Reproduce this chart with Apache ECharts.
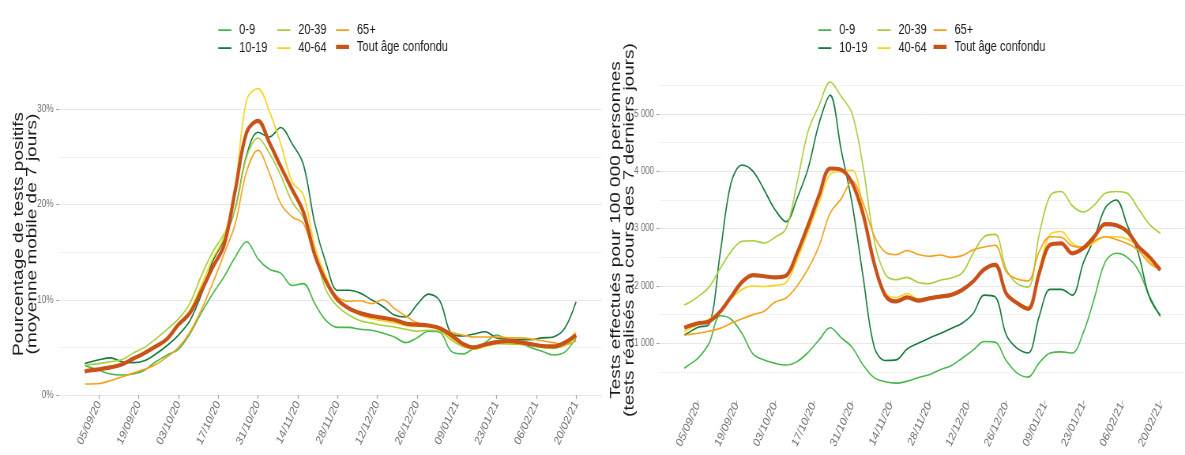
<!DOCTYPE html>
<html>
<head>
<meta charset="utf-8">
<script src="https://cdn.jsdelivr.net/npm/echarts@6/dist/echarts.min.js"></script>
<style>
  html, body { margin: 0; padding: 0; background: #ffffff; overflow: hidden; }
  #wrap { width: 1185px; height: 455px; overflow: hidden; position: relative; }
  /* the figure is laid out 1500px wide and narrowed horizontally to the page width */
  #chart { width: 1500px; height: 455px; transform: scaleX(0.79); transform-origin: 0 0; }
</style>
</head>
<body>
<div id="wrap"><div id="chart"></div></div>
<script>
// ---------- data ----------
const sampleDates = [
  '31/08/20',
  '01/09/20','05/09/20','09/09/20','13/09/20','17/09/20','21/09/20','25/09/20','29/09/20',
  '03/10/20','07/10/20','11/10/20','15/10/20','19/10/20','23/10/20','27/10/20','31/10/20',
  '04/11/20','08/11/20','12/11/20','16/11/20','20/11/20','24/11/20','28/11/20',
  '02/12/20','06/12/20','10/12/20','14/12/20','18/12/20','22/12/20','26/12/20','30/12/20',
  '03/01/21','07/01/21','11/01/21','15/01/21','19/01/21','23/01/21','27/01/21','31/01/21',
  '04/02/21','08/02/21','12/02/21','16/02/21','20/02/21'
];

const tickLabels = [
  '05/09/20','19/09/20','03/10/20','17/10/20','31/10/20','14/11/20','28/11/20',
  '12/12/20','26/12/20','09/01/21','23/01/21','06/02/21','20/02/21'
];

const positivityTicks = [0, 10, 20, 30];
const testsTicks = [1000, 2000, 3000, 4000, 5000];

const groupNames = ['0-9', '10-19', '20-39', '40-64', '65+', 'Tout âge confondu'];

// percentage of positive tests (7-day moving average)
const positivity_0_9   = [3.15, 3.0, 2.6, 2.2, 2.1, 2.2, 2.6, 3.5, 4.2, 4.8, 6.4, 8.6, 10.6, 12.4, 14.5, 16.1, 14.3, 13.2, 12.8, 11.5, 11.7, 9.6, 7.8, 7.1, 7.1, 6.9, 6.8, 6.5, 6.1, 5.5, 6.0, 6.7, 6.6, 4.6, 4.3, 4.9, 5.5, 6.3, 5.8, 5.5, 5.0, 4.6, 4.2, 4.5, 6.0];
const positivity_10_19 = [3.3, 3.4, 3.7, 3.9, 3.5, 3.4, 3.6, 4.3, 5.2, 6.3, 7.8, 10.5, 14.0, 16.3, 19.6, 25.2, 27.6, 27.1, 28.1, 26.4, 24.2, 18.0, 13.8, 11.0, 11.0, 10.7, 10.0, 9.3, 8.4, 8.2, 9.5, 10.6, 9.9, 6.5, 6.2, 6.4, 6.65, 6.0, 5.9, 5.8, 5.8, 6.0, 6.1, 7.0, 9.8];
const positivity_20_39 = [3.1, 3.15, 3.3, 3.5, 3.7, 4.4, 5.0, 5.9, 6.9, 8.0, 9.6, 12.5, 15.0, 16.9, 19.5, 25.0, 27.0, 25.4, 23.1, 20.3, 18.6, 15.0, 11.0, 9.3, 8.4, 7.8, 7.55, 7.3, 7.15, 6.9, 6.7, 6.8, 6.7, 5.8, 5.1, 4.95, 5.3, 5.4, 5.35, 5.3, 5.2, 5.0, 4.9, 5.2, 6.1];
const positivity_40_64 = [2.55, 2.6, 2.75, 3.0, 3.3, 3.9, 4.5, 5.2, 6.0, 7.5, 8.9, 11.5, 14.3, 16.6, 22.0, 31.0, 32.2, 29.8, 26.4, 22.4, 21.0, 15.6, 12.4, 10.0, 9.0, 8.4, 8.0, 7.8, 7.6, 7.3, 7.2, 7.2, 6.9, 6.0, 5.2, 4.8, 5.1, 5.4, 5.5, 5.4, 5.25, 5.05, 5.0, 5.5, 6.6];
const positivity_65    = [1.15, 1.15, 1.2, 1.5, 1.9, 2.3, 2.7, 3.2, 4.0, 5.0, 6.6, 8.9, 11.7, 14.8, 18.0, 23.5, 25.7, 23.3, 20.1, 18.7, 18.0, 14.6, 12.1, 10.3, 9.85, 9.9, 9.6, 10.0, 9.1, 8.3, 7.6, 7.35, 7.0, 6.6, 6.3, 6.1, 6.1, 6.1, 6.0, 6.0, 5.9, 5.7, 5.5, 5.3, 5.7];
const positivity_all   = [2.45, 2.55, 2.7, 2.9, 3.2, 3.8, 4.4, 5.1, 5.9, 7.4, 8.6, 10.9, 13.4, 15.7, 21.5, 27.6, 28.8, 26.5, 24.0, 21.6, 19.2, 14.7, 11.9, 10.0, 9.1, 8.6, 8.3, 8.1, 7.9, 7.5, 7.4, 7.3, 7.0, 6.3, 5.4, 5.0, 5.3, 5.55, 5.65, 5.55, 5.35, 5.15, 5.1, 5.5, 6.3];

// tests per 100 000 people over the last 7 days
const tests_0_9   = [565, 600, 740, 1000, 1480, 1420, 1170, 810, 710, 650, 620, 680, 840, 1060, 1270, 1100, 930, 620, 400, 330, 305, 340, 400, 450, 540, 610, 740, 880, 1030, 1020, 700, 480, 410, 660, 830, 850, 830, 1180, 1780, 2420, 2570, 2500, 2280, 1830, 1465];
const tests_10_19 = [1145, 1170, 1280, 1330, 2550, 3800, 4110, 4000, 3680, 3330, 3120, 3530, 4050, 4840, 5330, 4380, 3440, 2160, 940, 700, 710, 900, 1000, 1090, 1170, 1260, 1350, 1520, 1840, 1810, 1150, 910, 830, 1470, 1940, 1940, 1840, 2400, 2830, 3360, 3500, 3060, 2570, 1810, 1490];
const tests_20_39 = [1670, 1690, 1815, 1980, 2300, 2600, 2780, 2790, 2750, 2850, 3000, 3800, 4700, 5150, 5560, 5310, 5010, 4080, 2800, 2210, 2110, 2150, 2060, 2040, 2100, 2140, 2230, 2570, 2860, 2900, 2300, 2040, 1980, 2900, 3580, 3650, 3400, 3290, 3410, 3620, 3650, 3620, 3350, 3080, 2920];
const tests_40_64 = [1200, 1230, 1330, 1420, 1560, 1780, 1940, 2000, 1990, 2010, 2060, 2450, 2950, 3450, 3950, 4000, 4020, 3350, 2450, 1880, 1800, 1870, 1770, 1800, 1830, 1860, 1940, 2090, 2300, 2370, 1880, 1720, 1630, 2300, 2900, 2950, 2750, 2650, 2760, 2860, 2860, 2820, 2690, 2440, 2280];
const tests_65    = [1145, 1150, 1175, 1210, 1260, 1350, 1430, 1500, 1560, 1720, 1790, 2000, 2300, 2700, 3270, 3520, 3830, 3450, 2880, 2590, 2545, 2620, 2550, 2520, 2540, 2500, 2530, 2630, 2680, 2710, 2250, 2120, 2090, 2600, 2860, 2850, 2700, 2680, 2790, 2860, 2810, 2740, 2620, 2400, 2280];
const tests_all   = [1270, 1290, 1350, 1380, 1550, 1810, 2070, 2190, 2170, 2150, 2180, 2570, 3060, 3580, 4050, 4030, 3800, 3250, 2400, 1840, 1730, 1800, 1745, 1785, 1815, 1845, 1930, 2080, 2290, 2370, 1870, 1700, 1600, 2220, 2720, 2745, 2570, 2660, 2860, 3080, 3060, 2950, 2690, 2510, 2280];

const groupColors = ['#49b84c', '#187a3e', '#a7cf3b', '#f8d417', '#f5a11c', '#c9521b'];

const positivitySeries = [positivity_0_9, positivity_10_19, positivity_20_39, positivity_40_64, positivity_65, positivity_all];
const testsSeries = [tests_0_9, tests_10_19, tests_20_39, tests_40_64, tests_65, tests_all];

// ---------- daily categories of the time axis ----------
function fmtDay(t) {
  const d = new Date(t);
  const dd = String(d.getUTCDate()).padStart(2, '0');
  const mm = String(d.getUTCMonth() + 1).padStart(2, '0');
  const yy = String(d.getUTCFullYear()).slice(2);
  return dd + '/' + mm + '/' + yy;
}
const axisDays = [];
for (let t = Date.UTC(2020, 7, 22); t <= Date.UTC(2021, 2, 1); t += 86400000) axisDays.push(fmtDay(t));

// ---------- layout ----------
const SX = 0.79;          // horizontal squeeze applied to the whole figure
const FONT = "'Liberation Sans', Arial, sans-serif";
const TXT = '#1a1a1a';
const AXT = '#6f6f6f';
const TICK = '#a8a8a8';
const GRID_MAJOR = '#e8e8e8';
const GRID_MINOR = '#f2f2f2';
const NONE = 'rgba(0,0,0,0)';

const isTick = (idx, val) => tickLabels.indexOf(val) >= 0;

function xAxisFor(gridIndex, offset) {
  return {
    type: 'category', gridIndex, data: axisDays, boundaryGap: false, offset,
    axisLine: { show: false },
    axisTick: { show: true, interval: isTick, length: 4, lineStyle: { color: TICK, width: 1.2 } },
    axisLabel: {
      interval: isTick, rotate: 60, margin: 3, fontSize: 12.5, color: AXT, fontFamily: FONT
    },
    splitLine: { show: false }
  };
}

// companion axis that only carries the short tick marks next to the labels
function yTickAxis(gridIndex, min, max, values) {
  return {
    type: 'value', gridIndex, min, max, position: 'left',
    axisLine: { show: false },
    axisTick: { show: true, length: 3.8, customValues: values, lineStyle: { color: TICK, width: 1 } },
    axisLabel: { show: false },
    splitLine: { show: false }
  };
}

function seriesFor(values, gi) {
  return groupNames.map((name, i) => ({
    name, type: 'line', xAxisIndex: gi, yAxisIndex: gi,
    data: sampleDates.map((d, k) => [d, values[i][k]]),
    symbol: 'none', smooth: 0.35,
    lineStyle: { color: groupColors[i], width: i === 5 ? 4.2 : 1.6 },
    itemStyle: { color: groupColors[i] },
    emphasis: { disabled: true },
    z: 2 + i
  }));
}

// legends: three columns of two rows above each panel
const legendColumns = [['0-9', '10-19'], ['20-39', '40-64'], ['65+', 'Tout âge confondu']];
const legendRowsY = [24, 42];
function legendsFor(colX) {
  const out = [];
  legendColumns.forEach((col, c) => {
    col.forEach((name, r) => {
      const h = name === 'Tout âge confondu' ? 4.2 : 1.8;
      out.push({
        data: [name], icon: 'rect', orient: 'horizontal',
        left: colX[c] / SX, top: legendRowsY[r] - h / 2,
        itemWidth: 16.5, itemHeight: h, padding: 0,
        textStyle: { fontSize: 14, color: TXT, fontFamily: FONT, padding: [0, 0, 0, 5] },
        selectedMode: false
      });
    });
  });
  return out;
}

const option = {
  animation: false,
  backgroundColor: '#ffffff',
  grid: [
    { left: 59.2 / SX, width: 542.4 / SX, top: 69.4, height: 325.6 },
    { left: 659.5 / SX, width: 539.2 / SX, top: 66.5, height: 334.1 }
  ],
  legend: legendsFor([218.3, 277.3, 336]).concat(legendsFor([818.3, 877.5, 933.5])),
  xAxis: [xAxisFor(0, 4), xAxisFor(1, 0)],
  yAxis: [
    {
      type: 'value', gridIndex: 0, min: 0, max: 34.2, interval: 5,
      axisLine: { show: false }, axisTick: { show: false },
      axisLabel: {
        margin: 7, fontSize: 10.5, color: AXT, fontFamily: FONT,
        formatter: v => positivityTicks.indexOf(v) >= 0 ? v + '%' : ''
      },
      splitLine: { show: true, lineStyle: { width: 1, color: [GRID_MAJOR, GRID_MINOR, GRID_MAJOR, GRID_MINOR, GRID_MAJOR, GRID_MINOR, GRID_MAJOR, NONE] } }
    },
    {
      type: 'value', gridIndex: 1, min: 0, max: 5830, interval: 500,
      axisLine: { show: false }, axisTick: { show: false },
      axisLabel: {
        margin: 7, fontSize: 10, color: AXT, fontFamily: FONT,
        formatter: v => testsTicks.indexOf(v) >= 0 ? (v / 1000) + ' 000' : ''
      },
      splitLine: { show: true, lineStyle: { width: 1, color: [NONE, GRID_MINOR, GRID_MAJOR, GRID_MINOR, GRID_MAJOR, GRID_MINOR, GRID_MAJOR, GRID_MINOR, GRID_MAJOR, GRID_MINOR, GRID_MAJOR, GRID_MINOR, NONE] } }
    },
    yTickAxis(0, 0, 34.2, positivityTicks),
    yTickAxis(1, 0, 5830, testsTicks)
  ],
  graphic: [
    {
      type: 'text', x: 25.6 / SX, y: 234, rotation: Math.PI / 2,
      style: {
        text: 'Pourcentage de tests positifs\n(moyenne mobile de 7 jours)',
        fontSize: 19, fontFamily: FONT, fill: TXT, align: 'center', verticalAlign: 'middle', lineHeight: 17
      }
    },
    {
      type: 'text', x: 622.8 / SX, y: 230, rotation: Math.PI / 2,
      style: {
        text: 'Tests effectués pour 100 000 personnes\n(tests réalisés au cours des 7 derniers jours)',
        fontSize: 19, fontFamily: FONT, fill: TXT, align: 'center', verticalAlign: 'middle', lineHeight: 17.5
      }
    }
  ],
  series: seriesFor(positivitySeries, 0).concat(seriesFor(testsSeries, 1))
};

const chart = echarts.init(document.getElementById('chart'), null, { renderer: 'canvas' });
chart.setOption(option);
</script>
</body>
</html>
